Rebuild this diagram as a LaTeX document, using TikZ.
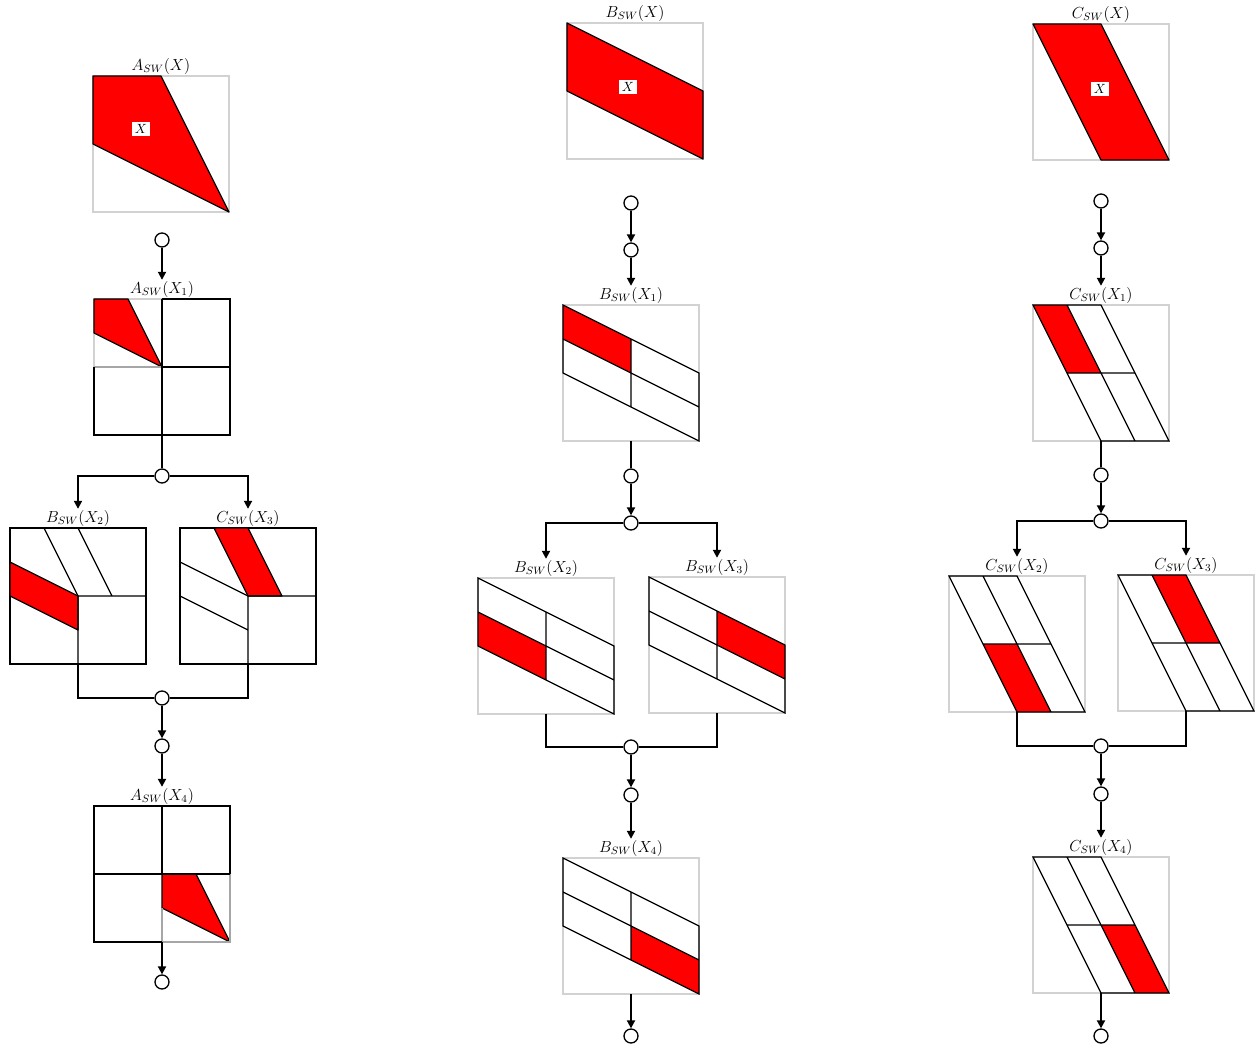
\documentclass[tikz,border=0pt]{standalone}
\usetikzlibrary{arrows.meta}
\begin{document}
\begin{tikzpicture}[x=0.75pt,y=-0.75pt]
\tikzset{
 panel/.style={draw=gray!35, line width=0.8pt, minimum width=102pt, minimum height=102pt, inner sep=0pt, outer sep=0pt},
 bpanel/.style={panel, draw=black, line width=1pt},
 lab/.style={anchor=south, inner sep=1pt, font=\fontsize{11.5}{13}\selectfont},
 dot/.style={circle, draw=black, line width=1pt, minimum size=10.5pt, inner sep=0pt, fill=white},
 conn/.style={line width=1.4pt},
 arr/.style={conn, -{Triangle[length=6pt,width=6pt]}},
 redfill/.style={fill=red, draw=black, line width=0.9pt, line join=round},
 ln/.style={draw=black, line width=0.9pt},
 gln/.style={draw=gray!70, line width=0.9pt},
 xlab/.style={fill=white, inner sep=2pt, font=\fontsize{10}{12}\selectfont}
}
\newcommand\inpanel[2]{\begin{scope}[shift={(#1.north west)},x=102pt,y=-102pt]#2\end{scope}}
\newcommand\bshape{\draw[ln] (0,0)--(1,0.5)--(1,1)--(0,0.5)--cycle (0,0.25)--(1,0.75) (0.5,0.25)--(0.5,0.75);}
\newcommand\cshape{\draw[ln] (0,0)--(0.5,0)--(1,1)--(0.5,1)--cycle (0.25,0)--(0.75,1) (0.25,0.5)--(0.75,0.5);}
\useasboundingbox (0,0) rectangle (1260,1047);

% ---------------- left column ----------------
\node[panel] (pA0) at (161,144) {};
\node[lab] (lA0) at (pA0.north) {$A_{SW}(X)$};
\inpanel{pA0}{\draw[redfill] (0,0)--(0.5,0)--(1,1)--(0,0.5)--cycle;}
\node[xlab] (xA) at (141,129) {$X$};

\node[dot] (cA1) at (162,240) {};

\node[panel] (pA1) at (162,367) {};
\node[lab] (lA1) at (pA1.north) {$A_{SW}(X_1)$};
\inpanel{pA1}{
 \draw[redfill] (0,0)--(0.25,0)--(0.5,0.5)--(0,0.25)--cycle;
 \draw[gln] (0,0.5)--(0.5,0.5);
 \draw[ln] (0.5,0)--(1,0)--(1,1)--(0,1)--(0,0.5) (0.5,0)--(0.5,1) (0.5,0.5)--(1,0.5);
}
\node[dot] (cA2) at (162,476) {};

\node[bpanel] (pA2) at (78,596) {};
\node[lab] (lA2) at (pA2.north) {$B_{SW}(X_2)$};
\inpanel{pA2}{
 \draw[redfill] (0,0.25)--(0.5,0.5)--(0.5,0.75)--(0,0.5)--cycle;
 \draw[ln] (0.25,0)--(0.5,0.5) (0.5,0)--(0.75,0.5) (0.5,1)--(0.5,0.5)--(1,0.5);
}
\node[bpanel] (pA3) at (248,596) {};
\node[lab] (lA3) at (pA3.north) {$C_{SW}(X_3)$};
\inpanel{pA3}{
 \draw[redfill] (0.25,0)--(0.5,0)--(0.75,0.5)--(0.5,0.5)--cycle;
 \draw[ln] (0,0.25)--(0.5,0.5) (0,0.5)--(0.5,0.75) (0.5,1)--(0.5,0.5)--(1,0.5);
}
\node[dot] (cA3) at (162,698) {};
\node[dot] (cA4) at (162,746) {};

\node[panel] (pA4) at (162,874) {};
\node[lab] (lA4) at (pA4.north) {$A_{SW}(X_4)$};
\inpanel{pA4}{
 \draw[redfill] (0.5,0.5)--(0.75,0.5)--(1,1)--(0.5,0.75)--cycle;
 \draw[gln] (0.5,0.75)--(0.5,1)--(1,1)--(1,0.5);
 \draw[ln] (0,0.5)--(0,0)--(1,0)--(1,0.5) (0,0.5)--(1,0.5) (0.5,0)--(0.5,0.5) (0,0.5)--(0,1)--(0.5,1);
}
\node[dot] (cA5) at (162,982) {};

\draw[arr] (cA1.south) -- (lA1.north);
\draw[conn] (pA1.south) -- (cA2.north);
\draw[arr] (cA2.west) -| (lA2.north);
\draw[arr] (cA2.east) -| (lA3.north);
\draw[conn] (pA2.south) |- (cA3.west);
\draw[conn] (pA3.south) |- (cA3.east);
\draw[arr] (cA3.south) -- (cA4.north);
\draw[arr] (cA4.south) -- (lA4.north);
\draw[arr] (pA4.south) -- (cA5.north);

% ---------------- middle column ----------------
\node[panel] (pB0) at (635,91) {};
\node[lab] (lB0) at (pB0.north) {$B_{SW}(X)$};
\inpanel{pB0}{\draw[redfill] (0,0)--(1,0.5)--(1,1)--(0,0.5)--cycle;}
\node[xlab] (xB) at (628,87) {$X$};

\node[dot] (cB1) at (631,203) {};
\node[dot] (cB2) at (631,250) {};

\node[panel] (pB1) at (631,373) {};
\node[lab] (lB1) at (pB1.north) {$B_{SW}(X_1)$};
\inpanel{pB1}{\fill[red] (0,0)--(0.5,0.25)--(0.5,0.5)--(0,0.25)--cycle; \bshape}
\node[dot] (cB3) at (631,476) {};
\node[dot] (cB4) at (631,523) {};

\node[panel] (pB2) at (546,646) {};
\node[lab] (lB2) at (pB2.north) {$B_{SW}(X_2)$};
\inpanel{pB2}{\fill[red] (0,0.25)--(0.5,0.5)--(0.5,0.75)--(0,0.5)--cycle; \bshape}
\node[panel] (pB3) at (717,645) {};
\node[lab] (lB3) at (pB3.north) {$B_{SW}(X_3)$};
\inpanel{pB3}{\fill[red] (0.5,0.25)--(1,0.5)--(1,0.75)--(0.5,0.5)--cycle; \bshape}
\node[dot] (cB5) at (631,747) {};
\node[dot] (cB6) at (631,795) {};

\node[panel] (pB4) at (631,926) {};
\node[lab] (lB4) at (pB4.north) {$B_{SW}(X_4)$};
\inpanel{pB4}{\fill[red] (0.5,0.5)--(1,0.75)--(1,1)--(0.5,0.75)--cycle; \bshape}
\node[dot] (cB7) at (631,1036) {};

\draw[arr] (cB1.south) -- (cB2.north);
\draw[arr] (cB2.south) -- (lB1.north);
\draw[conn] (pB1.south) -- (cB3.north);
\draw[arr] (cB3.south) -- (cB4.north);
\draw[arr] (cB4.west) -| (lB2.north);
\draw[arr] (cB4.east) -| (lB3.north);
\draw[conn] (pB2.south) |- (cB5.west);
\draw[conn] (pB3.south) |- (cB5.east);
\draw[arr] (cB5.south) -- (cB6.north);
\draw[arr] (cB6.south) -- (lB4.north);
\draw[arr] (pB4.south) -- (cB7.north);

% ---------------- right column ----------------
\node[panel] (pC0) at (1101,92) {};
\node[lab] (lC0) at (pC0.north) {$C_{SW}(X)$};
\inpanel{pC0}{\draw[redfill] (0,0)--(0.5,0)--(1,1)--(0.5,1)--cycle;}
\node[xlab] (xC) at (1100,89) {$X$};

\node[dot] (cC1) at (1101,201) {};
\node[dot] (cC2) at (1101,248) {};

\node[panel] (pC1) at (1101,373) {};
\node[lab] (lC1) at (pC1.north) {$C_{SW}(X_1)$};
\inpanel{pC1}{\fill[red] (0,0)--(0.25,0)--(0.5,0.5)--(0.25,0.5)--cycle; \cshape}
\node[dot] (cC3) at (1101,475) {};
\node[dot] (cC4) at (1101,521) {};

\node[panel] (pC2) at (1017,644) {};
\node[lab] (lC2) at (pC2.north) {$C_{SW}(X_2)$};
\inpanel{pC2}{\fill[red] (0.25,0.5)--(0.5,0.5)--(0.75,1)--(0.5,1)--cycle; \cshape}
\node[panel] (pC3) at (1186,643) {};
\node[lab] (lC3) at (pC3.north) {$C_{SW}(X_3)$};
\inpanel{pC3}{\fill[red] (0.25,0)--(0.5,0)--(0.75,0.5)--(0.5,0.5)--cycle; \cshape}
\node[dot] (cC5) at (1101,746) {};
\node[dot] (cC6) at (1101,794) {};

\node[panel] (pC4) at (1101,925) {};
\node[lab] (lC4) at (pC4.north) {$C_{SW}(X_4)$};
\inpanel{pC4}{\fill[red] (0.5,0.5)--(0.75,0.5)--(1,1)--(0.75,1)--cycle; \cshape}
\node[dot] (cC7) at (1101,1036) {};

\draw[arr] (cC1.south) -- (cC2.north);
\draw[arr] (cC2.south) -- (lC1.north);
\draw[conn] (pC1.south) -- (cC3.north);
\draw[arr] (cC3.south) -- (cC4.north);
\draw[arr] (cC4.west) -| (lC2.north);
\draw[arr] (cC4.east) -| (lC3.north);
\draw[conn] (pC2.south) |- (cC5.west);
\draw[conn] (pC3.south) |- (cC5.east);
\draw[arr] (cC5.south) -- (cC6.north);
\draw[arr] (cC6.south) -- (lC4.north);
\draw[arr] (pC4.south) -- (cC7.north);
\end{tikzpicture}
\end{document}
